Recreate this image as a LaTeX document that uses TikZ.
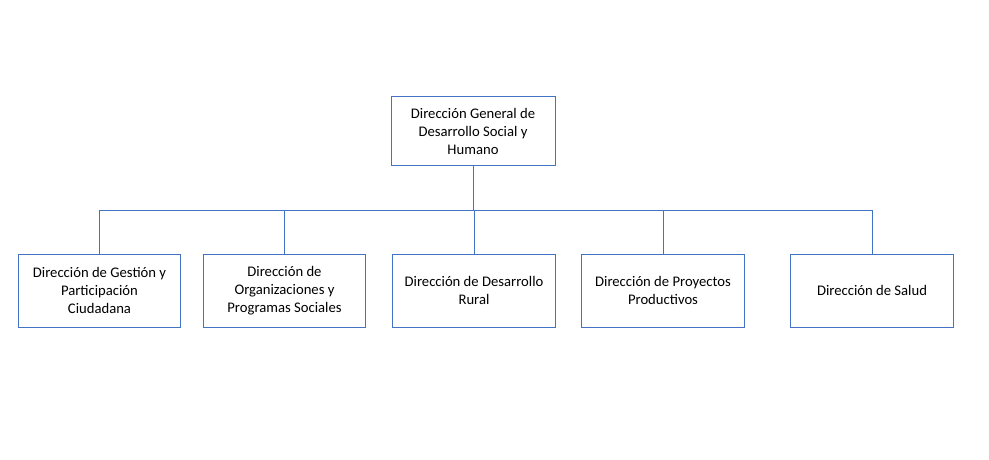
\documentclass[tikz,border=0pt]{standalone}
\usepackage{fontspec}
\setmainfont{Carlito}
\usetikzlibrary{positioning}

\definecolor{orgblue}{HTML}{4472C4}
\tikzset{
  unit/.style={draw=orgblue, line width=0.75pt, align=center, font=\fontsize{11}{13.5}\selectfont,
               inner sep=0pt, text=black},
  topunit/.style={unit, minimum width=123pt, minimum height=51pt},
  subunit/.style={unit, minimum width=122pt, minimum height=54.75pt},
  link/.style={draw=orgblue, line width=0.75pt}
}

\begin{document}
\begin{tikzpicture}[x=0.75pt,y=-0.75pt]
\useasboundingbox (0,0) rectangle (989,460);

\node (top) [topunit] at (473,131) {Dirección General de\\Desarrollo Social y\\Humano};

\node (d1) [subunit] at (99.5,290.5)  {Dirección de Gestión y\\Participación\\Ciudadana};
\node (d2) [subunit] at (284.5,290.5) {Dirección de\\Organizaciones y\\Programas Sociales};
\node (d3) [subunit] at (474,290.5)   {Dirección de Desarrollo\\Rural};
\node (d4) [subunit] at (663,290.5)   {Dirección de Proyectos\\Productivos};
\node (d5) [subunit] at (872,290.5)   {Dirección de Salud};

\coordinate (bus) at (473,210);

% tree lines
\draw[link] (top.south) -- (bus);
\draw[link] (bus-|d1.north) -- (bus-|d5.north);
\foreach \n in {d1,d2,d3,d4,d5}
  \draw[link] (bus-|\n.north) -- (\n.north);
\end{tikzpicture}
\end{document}
